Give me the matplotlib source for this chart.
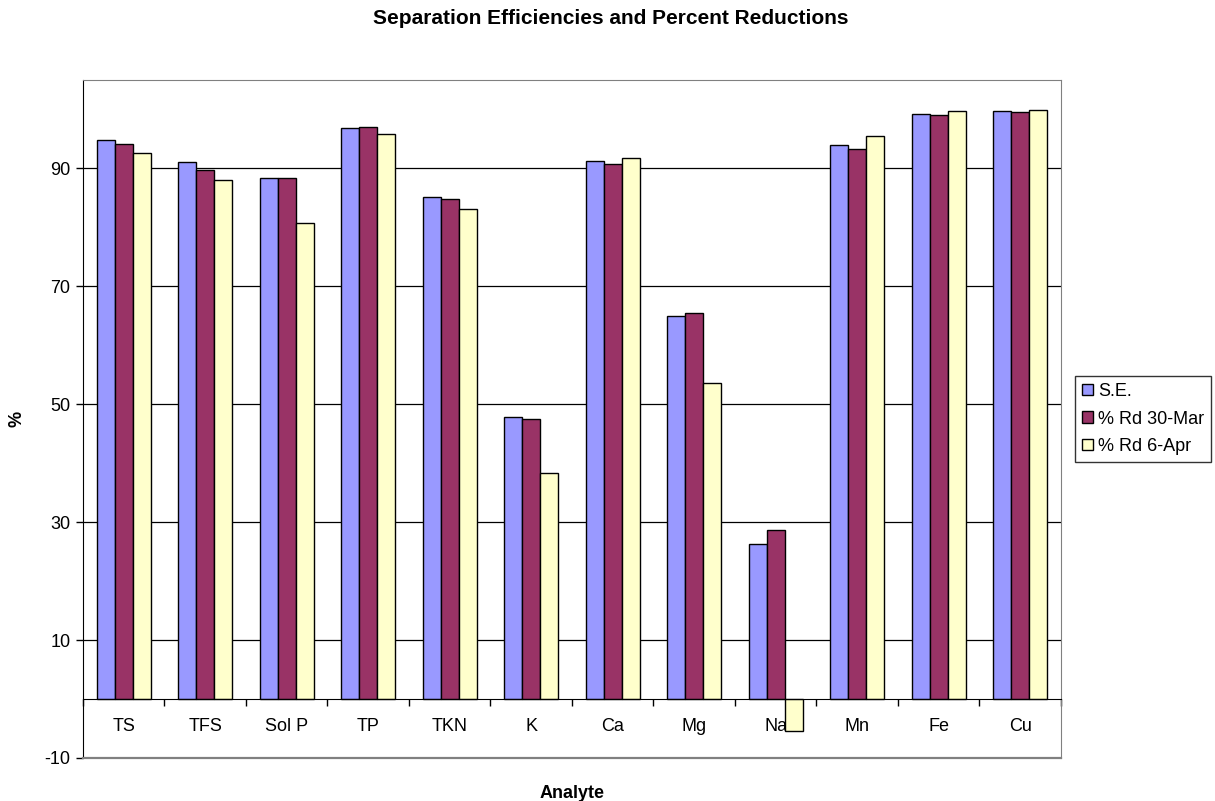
import numpy as np
import matplotlib
import matplotlib.pyplot as plt

matplotlib.rcParams.update({'font.family': ['Liberation Sans', 'DejaVu Sans'], 'font.size': 13,
                            'axes.unicode_minus': False})

analytes = ["TS", "TFS", "Sol P", "TP", "TKN", "K", "Ca", "Mg", "Na", "Mn", "Fe", "Cu"]
series_names = ["S.E.", "% Rd 30-Mar", "% Rd 6-Apr"]
se = [94.8, 91.1, 88.3, 96.9, 85.2, 47.9, 91.2, 64.9, 26.3, 93.9, 99.3, 99.7]
rd_30mar = [94.1, 89.8, 88.4, 97.0, 84.9, 47.5, 90.8, 65.5, 28.6, 93.3, 99.1, 99.5]
rd_6apr = [92.7, 88.0, 80.8, 95.9, 83.2, 38.3, 91.8, 53.6, -5.4, 95.5, 99.7, 99.9]
colors = ["#9999FF", "#993366", "#FFFFCC"]
yticks = [-10, 10, 30, 50, 70, 90]


def main():
    fig = plt.figure(figsize=(12.15, 8.01), dpi=100)
    ax = fig.add_axes([0.0683, 0.0537, 0.8049, 0.8464])

    x = np.arange(len(analytes))
    width = 0.222
    for i, (vals, name) in enumerate(zip([se, rd_30mar, rd_6apr], series_names)):
        ax.bar(x + (i - 1) * width, vals, width, color=colors[i], edgecolor="black",
               linewidth=1.0, label=name, zorder=3)

    ax.set_xlim(-0.5, len(analytes) - 0.5)
    ax.set_ylim(-10, 105)

    # gridlines
    ax.set_yticks(yticks)
    ax.yaxis.grid(True, color="black", linewidth=0.9, zorder=0)
    ax.tick_params(axis="y", direction="out", length=5, width=1, pad=4, labelsize=13)

    # category axis crosses at zero
    ax.spines["bottom"].set_position(("data", 0))
    ax.spines["bottom"].set_color("black")
    ax.spines["bottom"].set_zorder(4)
    ax.spines["left"].set_color("black")
    ax.spines["top"].set_color("#808080")
    ax.spines["right"].set_color("#808080")
    ax.axhline(-10, color="#808080", linewidth=1.6, clip_on=False, zorder=5)
    ax.set_xticks(x)
    ax.set_xticklabels(analytes)
    ax.set_xticks(np.arange(len(analytes) + 1) - 0.5, minor=True)
    ax.tick_params(axis="x", which="major", length=0, pad=14, labelsize=13)
    ax.tick_params(axis="x", which="minor", direction="out", length=5, width=1)

    fig.text(0.5025, 0.9775, "Separation Efficiencies and Percent Reductions", fontsize=15,
             fontweight="bold", ha="center", va="center")
    ax.set_xlabel("Analyte", fontweight="bold", fontsize=13)
    ax.xaxis.set_label_coords(0.5, -0.04)
    ax.set_ylabel("%", fontweight="bold", fontsize=13)
    ax.yaxis.set_label_coords(-0.059, 0.5)

    leg = ax.legend(loc="center left", bbox_to_anchor=(1.014, 0.5), frameon=True,
                    fancybox=False, edgecolor="black", fontsize=13,
                    handlelength=0.6, handleheight=0.6, handletextpad=0.3,
                    borderpad=0.4, labelspacing=0.58, borderaxespad=0)
    leg.get_frame().set_linewidth(1.0)

    fig.savefig("out.png", dpi=100)


if __name__ == "__main__":
    main()
